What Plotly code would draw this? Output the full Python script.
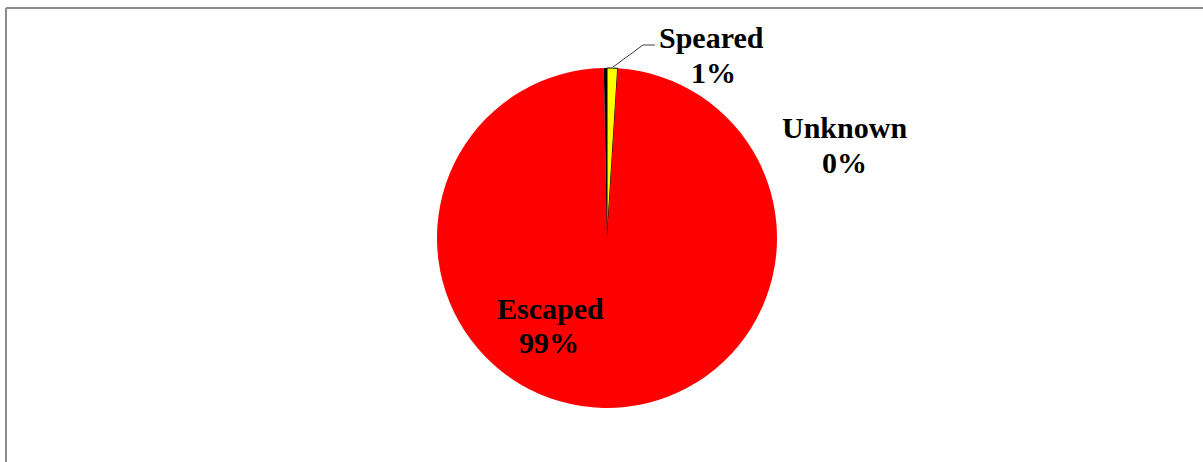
import plotly.graph_objects as go

# data (clockwise from 12 o'clock)
categories = ["Speared", "Escaped", "Unknown"]
values = [1.0, 98.7, 0.3]
colors = ["#FFFF00", "#FF0000", "#000000"]

W, H = 1203, 462
total = sum(values)
pct = {c: round(v / total * 100) for c, v in zip(categories, values)}

cx, cy, r = 607, 238, 170

fig = go.Figure(go.Pie(
    labels=categories,
    values=values,
    sort=False,
    direction="clockwise",
    rotation=0,
    textinfo="none",
    hoverinfo="label+percent",
    marker=dict(colors=colors, line=dict(color=["#000000", "#FF0000", "#000000"], width=[1, 0, 0])),
    domain=dict(x=[(cx - r) / W, (cx + r) / W], y=[(H - cy - r) / H, (H - cy + r) / H]),
    showlegend=False,
))

font = dict(family="Liberation Serif, Times New Roman, serif", size=30, color="#000000")
label_pos = {
    "Speared": (711, 38, 713, 72),
    "Unknown": (844, 128, 844, 162),
    "Escaped": (550, 308, 549, 342),
}
ann = []
for c in categories:
    x1, y1, x2, y2 = label_pos[c]
    ann.append(dict(x=x1 / W, y=1 - y1 / H, xref="paper", yref="paper", text="<b>%s</b>" % c,
                    showarrow=False, font=font, xanchor="center", yanchor="middle"))
    ann.append(dict(x=x2 / W, y=1 - y2 / H, xref="paper", yref="paper", text="<b>%d%%</b>" % pct[c],
                    showarrow=False, font=font, xanchor="center", yanchor="middle"))

shapes = [
    # chart area border (top and left visible)
    dict(type="line", xref="paper", yref="paper", x0=6 / W, x1=1, y0=1 - 8 / H, y1=1 - 8 / H,
         line=dict(color="#8c8c8c", width=2)),
    dict(type="line", xref="paper", yref="paper", x0=6 / W, x1=6 / W, y0=0, y1=1 - 8 / H,
         line=dict(color="#8c8c8c", width=2)),
    # leader line for Speared
    dict(type="path", xref="paper", yref="paper",
         path="M %f %f L %f %f L %f %f" % (613 / W, 1 - 67 / H, 643 / W, 1 - 45 / H, 655 / W, 1 - 45 / H),
         line=dict(color="#404040", width=1)),
]

fig.update_layout(
    width=W, height=H,
    margin=dict(l=0, r=0, t=0, b=0),
    paper_bgcolor="#FFFFFF",
    plot_bgcolor="#FFFFFF",
    annotations=ann,
    shapes=shapes,
)

fig.write_html("out.html")
